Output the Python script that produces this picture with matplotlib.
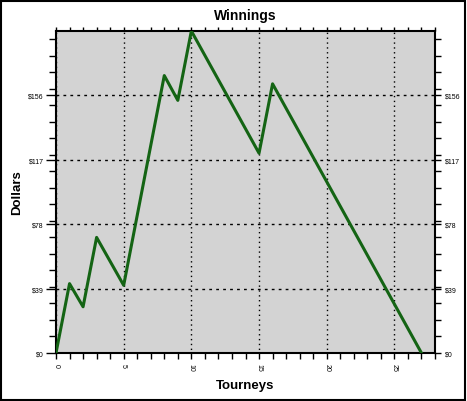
import matplotlib
matplotlib.use("Agg")
import matplotlib.pyplot as plt
from matplotlib.patches import Rectangle
from matplotlib.ticker import MultipleLocator, FixedLocator

# tourney number vs running winnings (dollars)
tourneys = [0, 1, 2, 3, 5, 8, 9, 10, 15, 16, 27]
dollars = [0, 42, 28, 70, 41, 168, 153, 195, 121, 163, 0]

y_ticks = [0, 39, 78, 117, 156]
y_labels = ["$0", "$39", "$78", "$117", "$156"]
x_ticks = [0, 5, 10, 15, 20, 25]

plt.rcParams["font.family"] = ["Liberation Sans", "DejaVu Sans"]

W, H = 467, 402
fig = plt.figure(figsize=(W / 100, H / 100), dpi=100)
fig.patch.set_facecolor("white")
fig.patches.append(Rectangle((0.002, 0.002), 0.994, 0.994, transform=fig.transFigure,
                             fill=False, edgecolor="black", linewidth=1.5))

ax = fig.add_axes([56 / W, 1 - 354 / H, (435 - 56) / W, (354 - 32) / H])
ax.set_facecolor("#d3d3d3")

ax.plot(tourneys, dollars, color="#146414", linewidth=2.2, zorder=3)

ax.set_xlim(0, 28)
ax.set_ylim(0, 195)

ax.xaxis.set_major_locator(FixedLocator(x_ticks))
ax.xaxis.set_minor_locator(MultipleLocator(1))
ax.yaxis.set_major_locator(FixedLocator(y_ticks))
ax.yaxis.set_minor_locator(MultipleLocator(10))
ax.set_yticklabels(y_labels)

ax.tick_params(axis="both", which="both", labelsize=5, color="black", width=1)
ax.tick_params(axis="y", which="major", length=7, pad=2, direction="out",
               left=True, right=False, labelleft=True, labelright=False)
ax.tick_params(axis="y", which="minor", length=5, direction="out", left=True, right=False)
ax.tick_params(axis="x", which="both", length=4, direction="out", bottom=True, top=False)

# short ticks on the right and top
sec_y = ax.secondary_yaxis("right")
sec_y.yaxis.set_major_locator(FixedLocator(y_ticks))
sec_y.yaxis.set_minor_locator(MultipleLocator(10))
sec_y.set_yticklabels(y_labels)
sec_y.tick_params(which="major", length=4, pad=3, labelsize=5, width=1)
sec_y.tick_params(which="minor", length=4, width=1)
sec_y.spines["right"].set_visible(False)

sec_x = ax.secondary_xaxis("top")
sec_x.xaxis.set_major_locator(FixedLocator(x_ticks))
sec_x.xaxis.set_minor_locator(MultipleLocator(1))
sec_x.tick_params(which="both", length=3, width=1, labeltop=False)
sec_x.spines["top"].set_visible(False)

for lbl in ax.get_xticklabels():
    lbl.set_rotation(-90)

for s in ax.spines.values():
    s.set_linewidth(1.5)

# grid lines: dashed horizontals, dotted verticals
for y in y_ticks[1:]:
    ax.axhline(y, color="black", linewidth=1, linestyle=(0, (2, 3)), zorder=1)
for x in x_ticks:
    ax.axvline(x, color="black", linewidth=1, linestyle=(1, (1, 2.5)), zorder=1)

fig.text(0.5 * (56 + 435) / W, 1 - 16 / H, "Winnings", ha="center", va="center",
         fontsize=10, fontweight="bold")
fig.text(0.5 * (56 + 435) / W, 1 - 386 / H, "Tourneys", ha="center", va="center",
         fontsize=9.5, fontweight="bold")
fig.text(17 / W, 1 - 193 / H, "Dollars", ha="center", va="center", rotation=90,
         fontsize=9.5, fontweight="bold")

fig.savefig("out.png", dpi=100)
